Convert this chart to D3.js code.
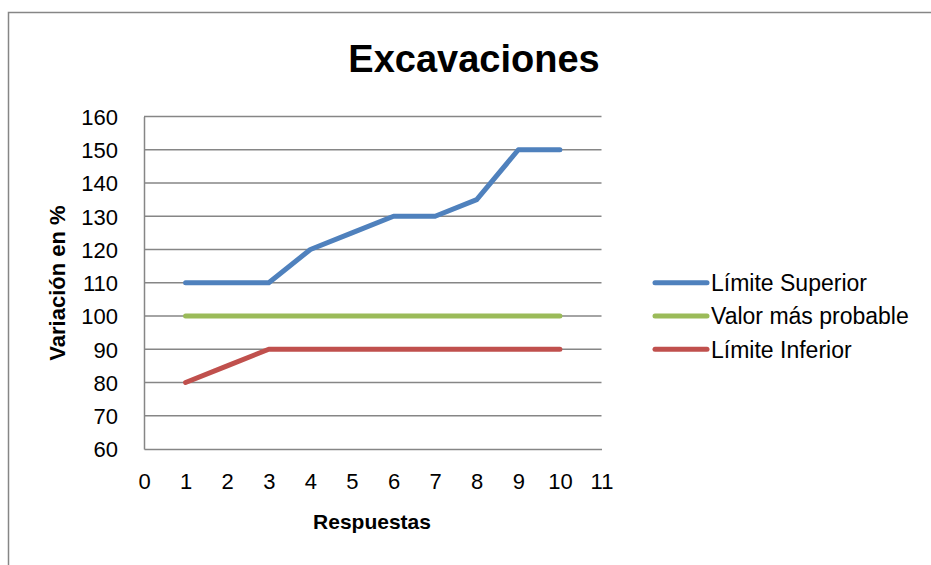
<!DOCTYPE html>
<html>
<head>
<meta charset="utf-8">
<script src="https://cdn.jsdelivr.net/npm/d3@7"></script>
<style>
  html, body { margin: 0; padding: 0; background: #fff; }
  svg text { font-family: "Liberation Sans", "DejaVu Sans", sans-serif; fill: #000; }
</style>
</head>
<body>
<svg id="chart" width="931" height="565"></svg>
<script>
// Respuestas (eje X)
const respuestas = [1, 2, 3, 4, 5, 6, 7, 8, 9, 10];
// Series de variación en %
const limiteSuperior = [110, 110, 110, 120, 125, 130, 130, 135, 150, 150];
const valorProbable  = [100, 100, 100, 100, 100, 100, 100, 100, 100, 100];
const limiteInferior = [80, 85, 90, 90, 90, 90, 90, 90, 90, 90];
const seriesNames = ["Límite Superior", "Valor más probable", "Límite Inferior"];
const seriesColors = ["#4F81BD", "#9BBB59", "#C0504D"];
const xTicks = [0, 1, 2, 3, 4, 5, 6, 7, 8, 9, 10, 11];
const yTicks = [60, 70, 80, 90, 100, 110, 120, 130, 140, 150, 160];

const svg = d3.select("#chart");
const plot = { left: 144, top: 116.5, right: 601.5, bottom: 449 };

// Chart frame
svg.append("rect")
  .attr("x", 8.5).attr("y", 12.5)
  .attr("width", 940).attr("height", 600)
  .attr("fill", "#fff").attr("stroke", "#868686").attr("stroke-width", 1.5);

const x = d3.scaleLinear().domain([0, 11]).range([plot.left, plot.right]);
const y = d3.scaleLinear().domain([60, 160]).range([plot.bottom, plot.top]);

// Horizontal gridlines
svg.append("g")
  .selectAll("line").data(yTicks.slice(1)).join("line")
  .attr("x1", plot.left).attr("x2", plot.right)
  .attr("y1", d => y(d)).attr("y2", d => y(d))
  .attr("stroke", "#868686").attr("stroke-width", 1.5);

// Y axis
const yAxis = svg.append("g")
  .attr("transform", `translate(${plot.left},0)`)
  .call(d3.axisLeft(y).tickValues(yTicks).tickSize(0).tickPadding(26));
yAxis.select(".domain").attr("stroke", "#868686").attr("stroke-width", 1.5);
yAxis.selectAll("text").attr("font-size", 22).attr("dy", "0.36em")
  .style("font-family", '"Liberation Sans", sans-serif').attr("fill", "#000");

// X axis
const xAxis = svg.append("g")
  .attr("transform", `translate(0,${plot.bottom})`)
  .call(d3.axisBottom(x).tickValues(xTicks).tickSize(0).tickPadding(24));
xAxis.select(".domain").attr("stroke", "#868686").attr("stroke-width", 1.5);
xAxis.selectAll("text").attr("font-size", 22).attr("dy", "0.71em")
  .style("font-family", '"Liberation Sans", sans-serif').attr("fill", "#000");

// Series lines
const series = [limiteSuperior, valorProbable, limiteInferior];
const line = d3.line()
  .x((d, i) => x(respuestas[i]))
  .y(d => y(d));
svg.append("g")
  .selectAll("path").data(series).join("path")
  .attr("d", d => line(d))
  .attr("fill", "none")
  .attr("stroke", (d, i) => seriesColors[i])
  .attr("stroke-width", 5)
  .attr("stroke-linejoin", "round")
  .attr("stroke-linecap", "round");

// Title
svg.append("text")
  .attr("x", 474).attr("y", 72)
  .attr("text-anchor", "middle")
  .attr("font-size", 38).attr("font-weight", "bold")
  .text("Excavaciones");

// Axis titles
svg.append("text")
  .attr("x", 372).attr("y", 529)
  .attr("text-anchor", "middle")
  .attr("font-size", 21).attr("font-weight", "bold")
  .text("Respuestas");

svg.append("text")
  .attr("transform", "translate(65,283) rotate(-90)")
  .attr("text-anchor", "middle")
  .attr("font-size", 22).attr("font-weight", "bold")
  .text("Variación en %");

// Legend
const legendY = [110, 100, 90];
const legend = svg.append("g").selectAll("g").data(seriesNames).join("g")
  .attr("transform", (d, i) => `translate(655,${y(legendY[i])})`);
legend.append("line")
  .attr("x1", 0).attr("x2", 52)
  .attr("stroke", (d, i) => seriesColors[i])
  .attr("stroke-width", 5).attr("stroke-linecap", "round");
legend.append("text")
  .attr("x", 56).attr("dy", "0.36em")
  .attr("font-size", 23)
  .text(d => d);
</script>
</body>
</html>
